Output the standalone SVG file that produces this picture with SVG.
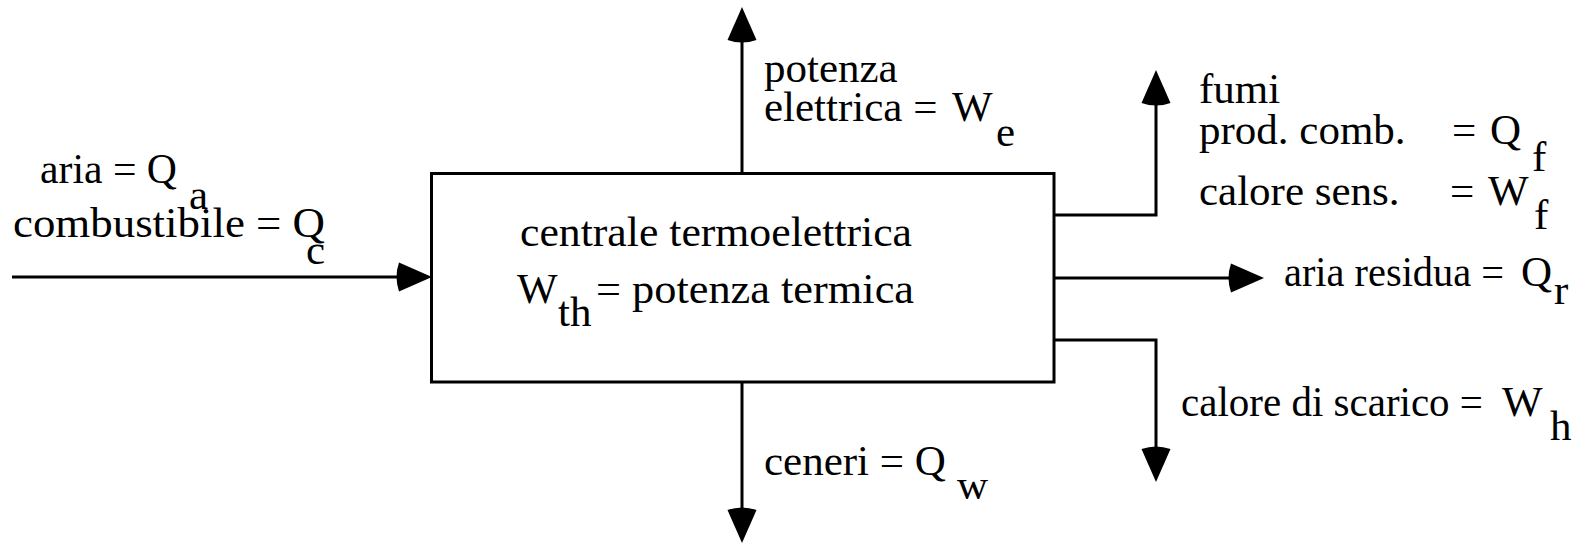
<svg xmlns="http://www.w3.org/2000/svg" width="1583" height="544" viewBox="0 0 1583 544" font-family="Liberation Serif, Times New Roman, Times, DejaVu Serif, serif" font-size="43">
<style>
.ln{fill:none;stroke:#000;stroke-width:3}
text{fill:#000}
</style>
<defs>
<marker id="ah" markerUnits="userSpaceOnUse" viewBox="-6 -16 42 32" markerWidth="42" markerHeight="32" refX="0" refY="0" orient="auto">
<path d="M33,0 L0,-14.5 Q-5,0 0,14.5 Z" fill="#000"/>
</marker>
</defs>
<rect width="1583" height="544" fill="#fff"/>
<g id="plant">
<rect class="ln" x="431.5" y="173.5" width="622.5" height="208.5"/>
<text x="520" y="246" textLength="392" lengthAdjust="spacingAndGlyphs">centrale termoelettrica</text>
<text x="517" y="303">W</text>
<text x="558" y="326">th</text>
<text x="596" y="303" textLength="318" lengthAdjust="spacingAndGlyphs">= potenza termica</text>
</g>
<g id="connectors">
<path class="ln" d="M12,277 H399" marker-end="url(#ah)"/>
<path class="ln" d="M742,173 V40" marker-end="url(#ah)"/>
<path class="ln" d="M742,382 V510" marker-end="url(#ah)"/>
<path class="ln" d="M1054,215 H1156 V103" marker-end="url(#ah)"/>
<path class="ln" d="M1054,278 H1231" marker-end="url(#ah)"/>
<path class="ln" d="M1054,340 H1156 V449" marker-end="url(#ah)"/>
</g>
<g id="labels">
<g id="lbl-aria">
<text x="40" y="183" textLength="137" lengthAdjust="spacingAndGlyphs">aria = Q</text>
<text x="189" y="209">a</text>
</g>
<g id="lbl-comb">
<text x="13" y="237" textLength="312" lengthAdjust="spacingAndGlyphs">combustibile = Q</text>
<text x="306" y="264">c</text>
</g>
<g id="lbl-we">
<text x="764" y="82">potenza</text>
<text x="764" y="121">elettrica =</text>
<text x="952" y="121">W</text>
<text x="996" y="146">e</text>
</g>
<g id="lbl-fumi">
<text x="1199" y="103">fumi</text>
<text x="1199" y="144">prod. comb.</text>
<text x="1452" y="144">=</text>
<text x="1490" y="144">Q</text>
<text x="1532" y="171">f</text>
<text x="1199" y="205">calore sens.</text>
<text x="1450" y="205">=</text>
<text x="1488" y="205">W</text>
<text x="1534" y="229">f</text>
</g>
<g id="lbl-residua">
<text x="1284" y="286" textLength="220" lengthAdjust="spacingAndGlyphs">aria residua =</text>
<text x="1521" y="286">Q</text>
<text x="1554" y="304">r</text>
</g>
<g id="lbl-scarico">
<text x="1181" y="416" textLength="302" lengthAdjust="spacingAndGlyphs">calore di scarico =</text>
<text x="1502" y="416">W</text>
<text x="1550" y="440">h</text>
</g>
<g id="lbl-ceneri">
<text x="764" y="475">ceneri = Q</text>
<text x="957" y="499">w</text>
</g>
</g>
</svg>
